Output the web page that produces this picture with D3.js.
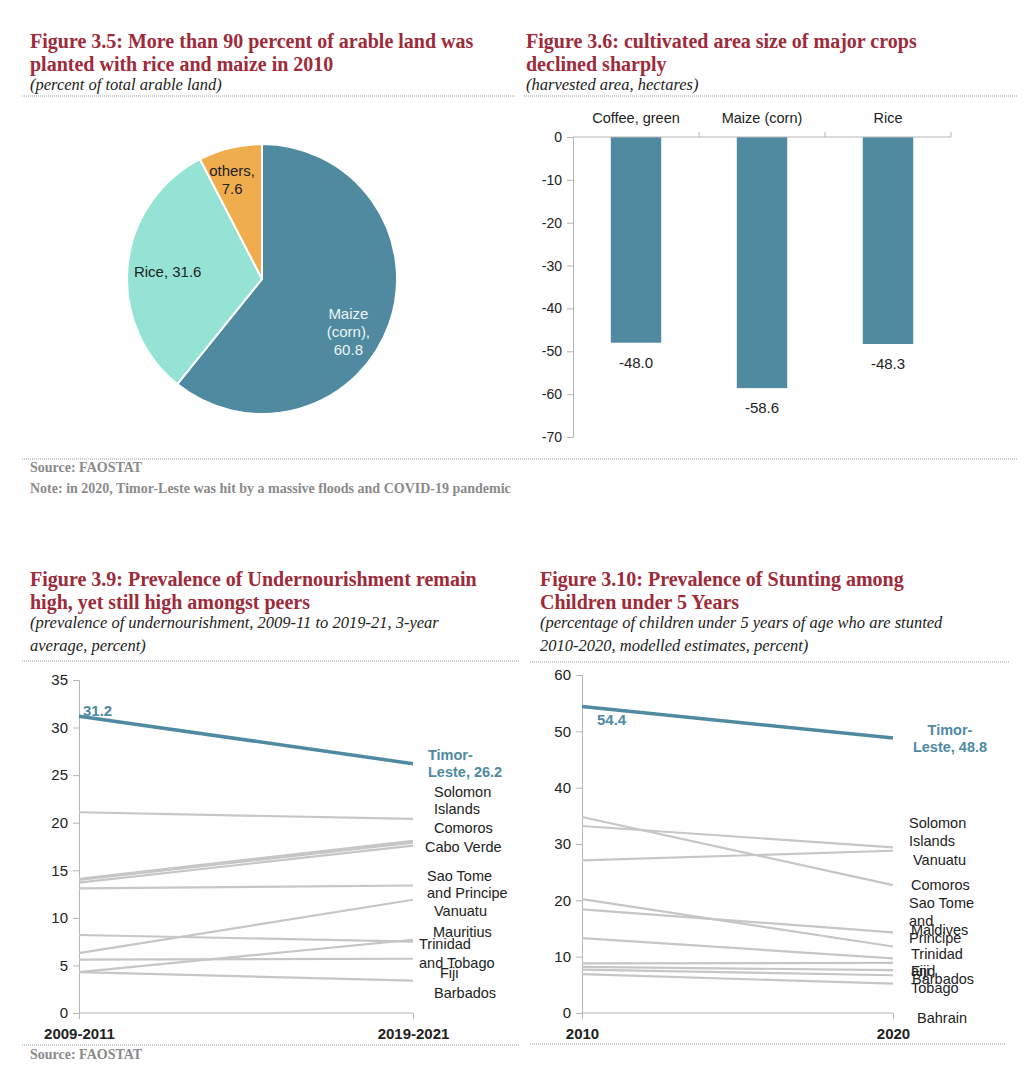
<!DOCTYPE html>
<html>
<head>
<meta charset="utf-8">
<script src="https://cdn.jsdelivr.net/npm/d3@7"></script>
<style>
  body { margin: 0; background: #fff; }
  svg text { font-family: "Liberation Sans", Arial, sans-serif; }
  .title { font-family: "Liberation Serif", "Times New Roman", serif !important; font-weight: bold; font-size: 20px; fill: #9e2a3a; }
  .sub { font-family: "Liberation Serif", "Times New Roman", serif !important; font-style: italic; font-size: 16.5px; fill: #222; }
  .src { font-family: "Liberation Serif", "Times New Roman", serif !important; font-weight: bold; font-size: 14px; fill: #8a8a8a; }
  .axis path, .axis line { stroke: #b5b5b5; }
  .axis text { fill: #222; }
</style>
</head>
<body>
<div id="vis"></div>
<script>
// Figure 3.5 - share of arable land
const pieCats = ["Maize (corn)", "Rice", "others"];
const pieVals = [60.8, 31.6, 7.6];

// Figure 3.6 - change in harvested area
const barCats = ["Coffee, green", "Maize (corn)", "Rice"];
const barVals = [-48.0, -58.6, -48.3];
const barTicks = [0, -10, -20, -30, -40, -50, -60, -70];

// Figure 3.9 - undernourishment
const unPeriods = ["2009-2011", "2019-2021"];
const unTimor = [31.2, 26.2];
const unPeers = [
  [21.1, 20.4], [14.1, 18.1], [14.0, 17.9], [13.7, 17.6], [13.1, 13.4],
  [6.3, 11.9], [8.2, 7.5], [5.6, 5.7], [4.3, 7.7], [4.3, 3.4]
];
const unNames = ["Solomon Islands", "Comoros", "Cabo Verde", "Sao Tome and Principe",
  "Vanuatu", "Mauritius", "Trinidad and Tobago", "Fiji", "Barbados"];
const unTicks = [0, 5, 10, 15, 20, 25, 30, 35];

// Figure 3.10 - stunting
const stYears = ["2010", "2020"];
const stTimor = [54.4, 48.8];
const stPeers = [
  [34.8, 22.7], [33.2, 29.4], [27.1, 28.8], [20.2, 11.8], [18.4, 14.3],
  [13.3, 9.7], [8.8, 8.9], [8.2, 7.6], [7.7, 6.7], [6.9, 5.2]
];
const stNames = ["Solomon Islands", "Vanuatu", "Comoros", "Sao Tome and Principe",
  "Maldives", "Trinidad and Tobago", "Fiji", "Barbados", "Bahrain"];
const stTicks = [0, 10, 20, 30, 40, 50, 60];

const teal = "#4f8aa1";
const grey = "#c6c6c6";
const fmt1 = v => d3.format(".1f")(v).replace("\u2212", "-");

const svg = d3.select("#vis").append("svg")
  .attr("width", 1024)
  .attr("height", 1083);

function titleBlock(x, lines, subs, y0) {
  lines.forEach((t, i) => {
    svg.append("text").attr("class", "title").attr("x", x).attr("y", y0 + i * 23).text(t);
  });
  const ys = y0 + lines.length * 23 - 4;
  subs.forEach((t, i) => {
    svg.append("text").attr("class", "sub").attr("x", x).attr("y", ys + i * 23).text(t);
  });
}

function dotted(x1, x2, y) {
  svg.append("line")
    .attr("x1", x1).attr("x2", x2).attr("y1", y).attr("y2", y)
    .attr("stroke", "#9a9a9a").attr("stroke-width", 1)
    .attr("stroke-dasharray", "1,1");
}

// ---------- titles ----------
titleBlock(30, ["Figure 3.5: More than 90 percent of arable land was", "planted with rice and maize in 2010"],
  ["(percent of total arable land)"], 48);
titleBlock(526, ["Figure 3.6: cultivated area size of major crops", "declined sharply"],
  ["(harvested area, hectares)"], 48);
titleBlock(30, ["Figure 3.9: Prevalence of Undernourishment remain", "high, yet still high amongst peers"],
  ["(prevalence of undernourishment, 2009-11 to 2019-21, 3-year", "average, percent)"], 586);
titleBlock(540, ["Figure 3.10: Prevalence of Stunting among", "Children under 5 Years"],
  ["(percentage of children under 5 years of age who are stunted", "2010-2020, modelled estimates, percent)"], 586);

dotted(22, 516, 96);
dotted(524, 1017, 96);
dotted(22, 1017, 459);
dotted(22, 520, 661);
dotted(530, 1010, 662);
dotted(22, 520, 1045);
dotted(530, 1005, 1044);

svg.append("text").attr("class", "src").attr("x", 30).attr("y", 472).text("Source: FAOSTAT");
svg.append("text").attr("class", "src").attr("x", 30).attr("y", 493)
  .text("Note: in 2020, Timor-Leste was hit by a massive floods and COVID-19 pandemic");
svg.append("text").attr("class", "src").attr("x", 30).attr("y", 1059).text("Source: FAOSTAT");

// ---------- pie ----------
const pieColors = d3.scaleOrdinal().domain(pieCats).range([teal, "#94e3d5", "#f0ad4e"]);
const pie = d3.pie().sort(null).value(d => d.v);
const arcs = pie(pieCats.map((c, i) => ({ c, v: pieVals[i] })));
const r = 135;
const arc = d3.arc().innerRadius(0).outerRadius(r);
const pg = svg.append("g").attr("transform", "translate(262,279)");
pg.selectAll("path").data(arcs).join("path")
  .attr("d", arc)
  .attr("fill", d => pieColors(d.data.c))
  .attr("stroke", "#fff").attr("stroke-width", 2);

const pieLabels = [
  { lines: ["Maize", "(corn),", "60.8"], r: 0.71, dx: -4, dy: 21, fill: "#eef4f5" },
  { lines: ["Rice, " + pieVals[1]], r: 0.71, dx: 1, dy: 3, fill: "#222" },
  { lines: ["others,", pieVals[2]], r: 0.78, dx: -5, dy: 3, fill: "#222" }
];
arcs.forEach((a, i) => {
  const L = pieLabels[i];
  const la = d3.arc().innerRadius(r * L.r).outerRadius(r * L.r);
  const [cx, cy] = la.centroid(a);
  const t = pg.append("text").attr("text-anchor", "middle")
    .attr("font-size", 15).attr("fill", L.fill);
  L.lines.forEach((s, j) => {
    t.append("tspan").attr("x", cx + L.dx)
      .attr("y", cy + L.dy + (j - (L.lines.length - 1) / 2) * 18 + 5).text(s);
  });
});

// ---------- bar chart ----------
const bx = d3.scaleBand().domain(barCats).range([573, 951]).paddingInner(0.6).paddingOuter(0.3);
const by = d3.scaleLinear().domain([-70, 0]).range([437, 137]);

svg.append("g").attr("class", "axis")
  .attr("transform", "translate(573,0)")
  .call(d3.axisLeft(by).tickValues(barTicks).tickSize(6).tickPadding(5).tickFormat(d => String(d)))
  .call(g => g.selectAll("text").attr("font-size", 14));

svg.selectAll("rect.bar").data(barVals).join("rect")
  .attr("class", "bar")
  .attr("x", (d, i) => bx(barCats[i]))
  .attr("width", bx.bandwidth())
  .attr("y", by(0))
  .attr("height", d => by(d) - by(0))
  .attr("fill", teal);

// category axis along zero line, ticks pointing up
const bStep = (951 - 573) / barCats.length;
const bEdges = d3.range(barCats.length + 1).map(i => 573 + i * bStep);
svg.append("line").attr("x1", 573).attr("x2", 951).attr("y1", by(0)).attr("y2", by(0)).attr("stroke", "#b5b5b5");
svg.selectAll("line.btick").data(bEdges.slice(1)).join("line")
  .attr("class", "btick")
  .attr("x1", d => d).attr("x2", d => d)
  .attr("y1", by(0)).attr("y2", by(0) - 5).attr("stroke", "#b5b5b5");

svg.selectAll("text.bcat").data(barCats).join("text")
  .attr("class", "bcat")
  .attr("x", d => bx(d) + bx.bandwidth() / 2)
  .attr("y", 123)
  .attr("text-anchor", "middle").attr("font-size", 14.5).attr("fill", "#222")
  .text(d => d);

svg.selectAll("text.bval").data(barVals).join("text")
  .attr("class", "bval")
  .attr("x", (d, i) => bx(barCats[i]) + bx.bandwidth() / 2)
  .attr("y", d => by(d) + 25)
  .attr("text-anchor", "middle").attr("font-size", 15).attr("fill", "#222")
  .text(d => fmt1(d));

// ---------- slope charts ----------
function slope(opt) {
  const x = d3.scalePoint().domain(opt.periods).range([opt.x0, opt.x1]);
  const y = d3.scaleLinear().domain([0, opt.max]).range([1013, opt.top]);
  const g = svg.append("g");

  g.append("g").attr("class", "axis")
    .attr("transform", `translate(${opt.x0},0)`)
    .call(d3.axisLeft(y).tickValues(opt.ticks).tickSize(6).tickPadding(5))
    .call(a => a.selectAll("text").attr("font-size", 15));

  g.append("g").attr("class", "axis")
    .attr("transform", "translate(0,1013)")
    .call(d3.axisBottom(x).tickSize(6).tickPadding(6))
    .call(a => a.select(".domain").attr("d", `M${opt.x0},0H${opt.x1}`))
    .call(a => a.selectAll("text").attr("font-size", 15).attr("font-weight", "bold").attr("dy", "0.9em"));

  const line = d3.line().x((d, i) => x(opt.periods[i])).y(d => y(d));

  g.selectAll("path.peer").data(opt.peers).join("path")
    .attr("class", "peer")
    .attr("d", line)
    .attr("fill", "none").attr("stroke", grey).attr("stroke-width", 2.2);

  g.append("path").datum(opt.timor)
    .attr("d", line)
    .attr("fill", "none").attr("stroke", teal).attr("stroke-width", 3.5);

  // first value label
  g.append("text")
    .attr("x", x(opt.periods[0]) + opt.firstDx)
    .attr("y", y(opt.timor[0]) + opt.firstDy)
    .attr("font-size", 15).attr("font-weight", "bold").attr("fill", teal)
    .text(fmt1(opt.timor[0]));

  // end labels, placed where the spreadsheet put them
  opt.labels.forEach(L => {
    const t = g.append("text").attr("font-size", 14.5)
      .attr("fill", L.timor ? teal : "#222")
      .attr("font-weight", L.timor ? "bold" : null)
      .attr("text-anchor", L.anchor || "start");
    L.lines.forEach((s, j) => {
      t.append("tspan").attr("x", L.x).attr("y", y(L.at) + 5 + j * (L.gap || 16.5)).text(s);
    });
  });
}

slope({
  periods: unPeriods, timor: unTimor, peers: unPeers, ticks: unTicks,
  x0: 79, x1: 413, top: 680, max: 35, firstDx: 4, firstDy: 0,
  labels: [
    { lines: ["Timor-", "Leste, " + fmt1(unTimor[1])], at: 27.1, x: 428, timor: true, gap: 17 },
    { lines: ["Solomon", "Islands"], at: 23.2, x: 434 },
    { lines: [unNames[1]], at: 19.4, x: 434 },
    { lines: [unNames[2]], at: 17.4, x: 425 },
    { lines: ["Sao Tome", "and Principe"], at: 14.4, x: 427, gap: 17 },
    { lines: [unNames[4]], at: 10.7, x: 434 },
    { lines: [unNames[5]], at: 8.5, x: 433 },
    { lines: ["Trinidad", "and Tobago"], at: 7.3, x: 419, gap: 19 },
    { lines: [unNames[7]], at: 4.2, x: 440 },
    { lines: [unNames[8]], at: 2.1, x: 434 }
  ]
});

slope({
  periods: stYears, timor: stTimor, peers: stPeers, ticks: stTicks,
  x0: 582, x1: 893, top: 675, max: 60, firstDx: 15, firstDy: 18,
  labels: [
    { lines: ["Timor-", "Leste, " + fmt1(stTimor[1])], at: 50.2, x: 950, timor: true, anchor: "middle", gap: 17 },
    { lines: ["Solomon", "Islands"], at: 33.7, x: 909, gap: 18 },
    { lines: [stNames[1]], at: 27.1, x: 913 },
    { lines: [stNames[2]], at: 22.7, x: 911 },
    { lines: ["Sao Tome", "and", "Principe"], at: 19.5, x: 909, gap: 17.5 },
    { lines: [stNames[4]], at: 14.7, x: 911 },
    { lines: ["Trinidad", "and", "Tobago"], at: 10.4, x: 911, gap: 17 },
    { lines: [stNames[6]], at: 7.5, x: 911 },
    { lines: [stNames[7]], at: 6.1, x: 912 },
    { lines: [stNames[8]], at: -0.9, x: 917 }
  ]
});
</script>
</body>
</html>
